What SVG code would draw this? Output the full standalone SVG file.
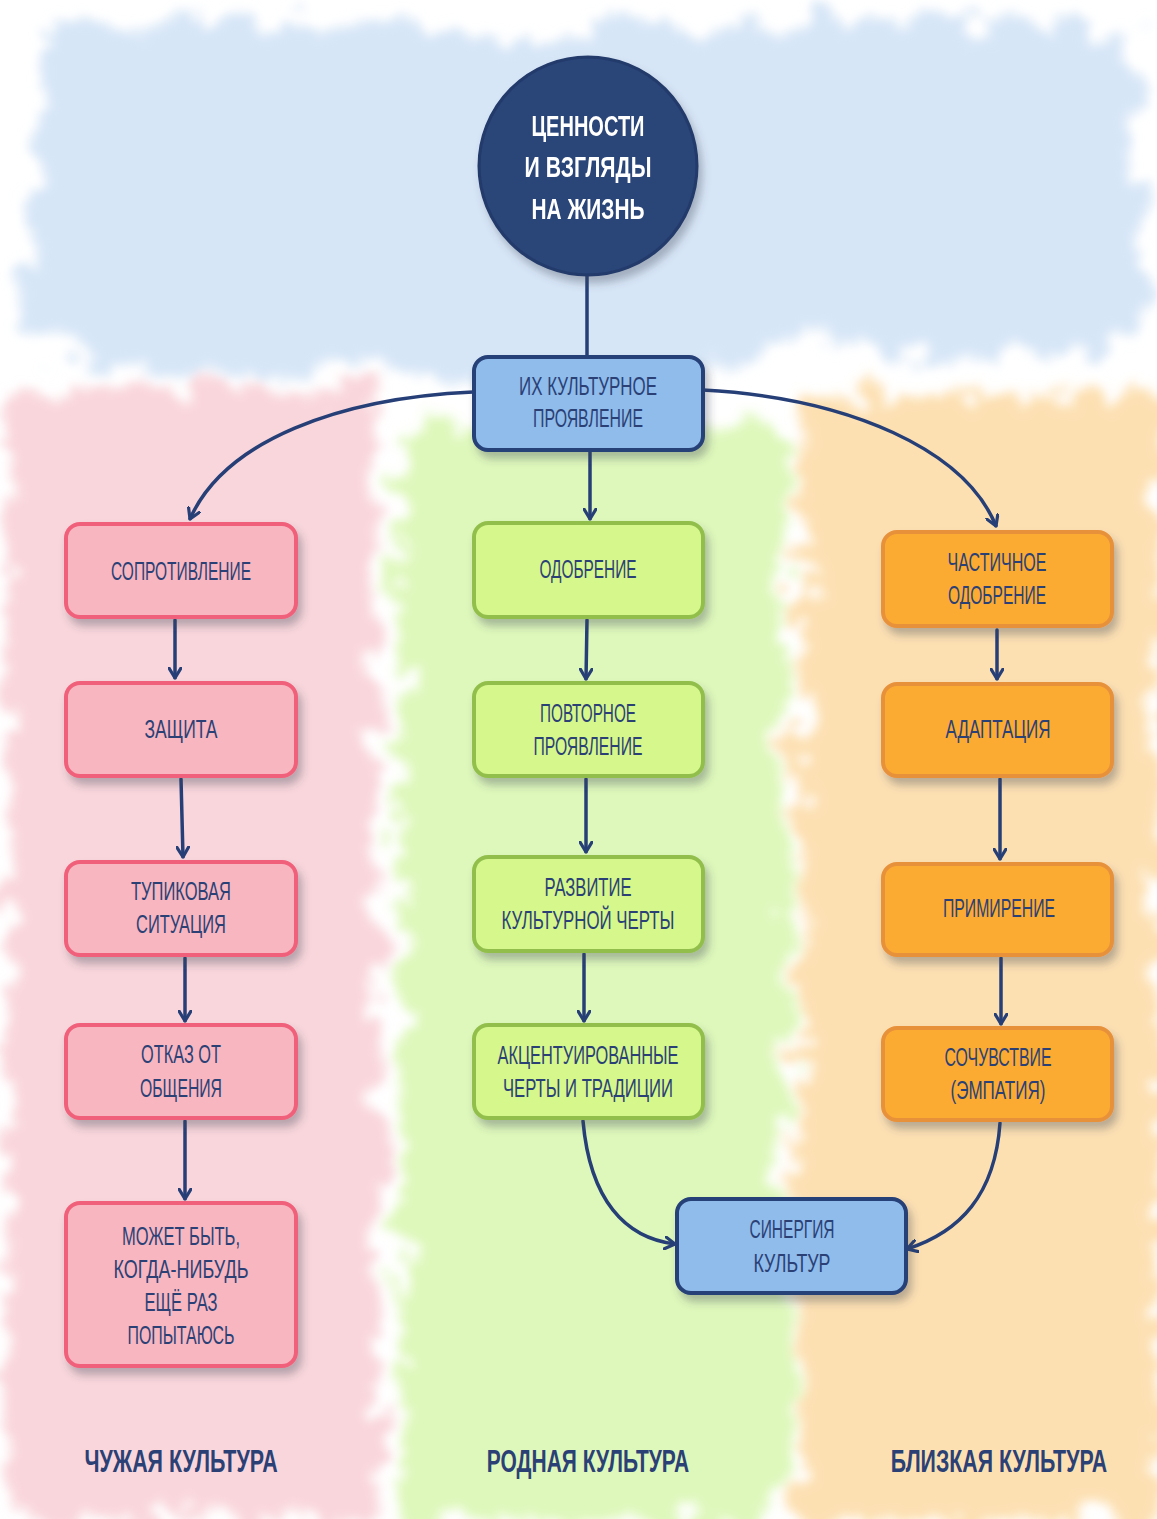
<svg xmlns="http://www.w3.org/2000/svg" width="1157" height="1519" viewBox="0 0 1157 1519">
<style>
.t{font-family:"Liberation Sans Narrow","Liberation Sans",Arial,sans-serif;font-size:25px;fill:#2b4176;text-anchor:middle}
.w{font-family:"Liberation Sans Narrow","Liberation Sans",Arial,sans-serif;font-size:29px;font-weight:bold;fill:#ffffff;text-anchor:middle}
.b{font-family:"Liberation Sans Narrow","Liberation Sans",Arial,sans-serif;font-size:31px;font-weight:bold;fill:#2b4176;text-anchor:middle}
.pink{fill:#f7b6c0;stroke:#f1607a;stroke-width:4}
.green{fill:#d5f78b;stroke:#92bf4c;stroke-width:4}
.orange{fill:#fcab31;stroke:#e8913b;stroke-width:4}
.blue{fill:#8fbceb;stroke:#253f78;stroke-width:4}
.c{fill:none;stroke:#263f77;stroke-width:3.5;stroke-linecap:round}
</style>
<defs>
<filter id="blur" x="-20%" y="-20%" width="140%" height="140%">
<feTurbulence type="fractalNoise" baseFrequency="0.025" numOctaves="3" seed="4" result="n"/>
<feDisplacementMap in="SourceGraphic" in2="n" scale="70" xChannelSelector="R" yChannelSelector="G" result="d"/>
<feTurbulence type="fractalNoise" baseFrequency="0.25" numOctaves="2" seed="9" result="n2"/>
<feDisplacementMap in="d" in2="n2" scale="26" xChannelSelector="R" yChannelSelector="G" result="d2"/>
<feGaussianBlur in="d2" stdDeviation="5"/>
</filter>
<filter id="sh" x="-10%" y="-10%" width="130%" height="140%">
<feDropShadow dx="4" dy="7" stdDeviation="4" flood-color="#3a3f55" flood-opacity="0.35"/>
</filter>
<marker id="ah" viewBox="0 0 12 14" refX="11" refY="7" markerWidth="12" markerHeight="14" markerUnits="userSpaceOnUse" orient="auto">
<path d="M1,1 L11,7 L1,13" fill="none" stroke="#263f77" stroke-width="3.2" stroke-linecap="round" stroke-linejoin="round"/>
</marker>
</defs>

<rect x="0" y="0" width="1157" height="1519" fill="#ffffff"/>
<g id="background" filter="url(#blur)">
<path d="M45,30 C200,15 400,25 560,40 C760,15 950,10 1130,35 L1150,340 C1000,375 900,355 780,340 C650,410 500,410 380,360 C250,390 120,380 20,340 Z" fill="#d7e6f7"/>
<rect x="8" y="390" width="370" height="1130" fill="#f9d6db"/>
<rect x="400" y="430" width="390" height="1090" fill="#def8bb"/>
<rect x="800" y="395" width="360" height="1125" fill="#fde0b2"/>
</g>

<g id="connectors">
<path class="c" d="M587,276 L587,356"/>
<path class="c" d="M473,392 C340,398 225,440 190,519" marker-end="url(#ah)"/>
<path class="c" d="M703,390 C850,398 965,450 996,526" marker-end="url(#ah)"/>
<path class="c" d="M590,451 L590,519" marker-end="url(#ah)"/>
<path class="c" d="M175,620 L175,678" marker-end="url(#ah)"/>
<path class="c" d="M181,779 L183,857" marker-end="url(#ah)"/>
<path class="c" d="M185,958 L185,1021" marker-end="url(#ah)"/>
<path class="c" d="M185,1121 L185,1199" marker-end="url(#ah)"/>
<path class="c" d="M587,620 L586,679" marker-end="url(#ah)"/>
<path class="c" d="M586,779 L586,852" marker-end="url(#ah)"/>
<path class="c" d="M584,954 L584,1021" marker-end="url(#ah)"/>
<path class="c" d="M997,630 L997,679" marker-end="url(#ah)"/>
<path class="c" d="M1000,779 L1000,859" marker-end="url(#ah)"/>
<path class="c" d="M1001,958 L1001,1024" marker-end="url(#ah)"/>
<path class="c" d="M583,1121 C590,1200 625,1238 675,1244" marker-end="url(#ah)"/>
<path class="c" d="M1000,1123 C995,1195 960,1232 907,1249" marker-end="url(#ah)"/>
</g>

<g id="n-values" filter="url(#sh)">
<circle cx="588" cy="166" r="109" fill="#2a4478" stroke="#223a6a" stroke-width="3"/>
<text class="w" x="588" y="136" textLength="113" lengthAdjust="spacingAndGlyphs">ЦЕННОСТИ</text>
<text class="w" x="588" y="177" textLength="127" lengthAdjust="spacingAndGlyphs">И ВЗГЛЯДЫ</text>
<text class="w" x="588" y="219" textLength="113" lengthAdjust="spacingAndGlyphs">НА ЖИЗНЬ</text>
</g>

<g id="n-manifest">
<rect class="blue" x="474" y="357" width="229" height="93" rx="14" filter="url(#sh)"/>
<text class="t" x="588" y="395" textLength="138" lengthAdjust="spacingAndGlyphs">ИХ КУЛЬТУРНОЕ</text>
<text class="t" x="588" y="427" textLength="110" lengthAdjust="spacingAndGlyphs">ПРОЯВЛЕНИЕ</text>
</g>

<g id="n-resist">
<rect class="pink" x="66" y="524" width="230" height="93" rx="14" filter="url(#sh)"/>
<text class="t" x="181" y="580" textLength="140" lengthAdjust="spacingAndGlyphs">СОПРОТИВЛЕНИЕ</text>
</g>
<g id="n-defense">
<rect class="pink" x="66" y="683" width="230" height="93" rx="14" filter="url(#sh)"/>
<text class="t" x="181" y="738" textLength="73" lengthAdjust="spacingAndGlyphs">ЗАЩИТА</text>
</g>
<g id="n-deadlock">
<rect class="pink" x="66" y="862" width="230" height="93" rx="14" filter="url(#sh)"/>
<text class="t" x="181" y="900" textLength="100" lengthAdjust="spacingAndGlyphs">ТУПИКОВАЯ</text>
<text class="t" x="181" y="933" textLength="90" lengthAdjust="spacingAndGlyphs">СИТУАЦИЯ</text>
</g>
<g id="n-refusal">
<rect class="pink" x="66" y="1025" width="230" height="93" rx="14" filter="url(#sh)"/>
<text class="t" x="181" y="1063" textLength="80" lengthAdjust="spacingAndGlyphs">ОТКАЗ ОТ</text>
<text class="t" x="181" y="1097" textLength="82" lengthAdjust="spacingAndGlyphs">ОБЩЕНИЯ</text>
</g>
<g id="n-maybe">
<rect class="pink" x="66" y="1203" width="230" height="163" rx="14" filter="url(#sh)"/>
<text class="t" x="181" y="1245" textLength="118" lengthAdjust="spacingAndGlyphs">МОЖЕТ БЫТЬ,</text>
<text class="t" x="181" y="1278" textLength="135" lengthAdjust="spacingAndGlyphs">КОГДА-НИБУДЬ</text>
<text class="t" x="181" y="1311" textLength="73" lengthAdjust="spacingAndGlyphs">ЕЩЁ РАЗ</text>
<text class="t" x="181" y="1344" textLength="107" lengthAdjust="spacingAndGlyphs">ПОПЫТАЮСЬ</text>
</g>

<g id="n-approval">
<rect class="green" x="474" y="523" width="229" height="94" rx="14" filter="url(#sh)"/>
<text class="t" x="588" y="578" textLength="97" lengthAdjust="spacingAndGlyphs">ОДОБРЕНИЕ</text>
</g>
<g id="n-repeat">
<rect class="green" x="474" y="683" width="229" height="93" rx="14" filter="url(#sh)"/>
<text class="t" x="588" y="722" textLength="96" lengthAdjust="spacingAndGlyphs">ПОВТОРНОЕ</text>
<text class="t" x="588" y="755" textLength="109" lengthAdjust="spacingAndGlyphs">ПРОЯВЛЕНИЕ</text>
</g>
<g id="n-develop">
<rect class="green" x="474" y="857" width="229" height="94" rx="14" filter="url(#sh)"/>
<text class="t" x="588" y="896" textLength="87" lengthAdjust="spacingAndGlyphs">РАЗВИТИЕ</text>
<text class="t" x="588" y="929" textLength="173" lengthAdjust="spacingAndGlyphs">КУЛЬТУРНОЙ ЧЕРТЫ</text>
</g>
<g id="n-accent">
<rect class="green" x="474" y="1025" width="229" height="93" rx="14" filter="url(#sh)"/>
<text class="t" x="588" y="1064" textLength="181" lengthAdjust="spacingAndGlyphs">АКЦЕНТУИРОВАННЫЕ</text>
<text class="t" x="588" y="1097" textLength="170" lengthAdjust="spacingAndGlyphs">ЧЕРТЫ И ТРАДИЦИИ</text>
</g>

<g id="n-partial">
<rect class="orange" x="883" y="532" width="229" height="94" rx="14" filter="url(#sh)"/>
<text class="t" x="997" y="571" textLength="99" lengthAdjust="spacingAndGlyphs">ЧАСТИЧНОЕ</text>
<text class="t" x="997" y="604" textLength="98" lengthAdjust="spacingAndGlyphs">ОДОБРЕНИЕ</text>
</g>
<g id="n-adapt">
<rect class="orange" x="883" y="684" width="229" height="92" rx="14" filter="url(#sh)"/>
<text class="t" x="998" y="738" textLength="105" lengthAdjust="spacingAndGlyphs">АДАПТАЦИЯ</text>
</g>
<g id="n-reconcile">
<rect class="orange" x="883" y="864" width="229" height="91" rx="14" filter="url(#sh)"/>
<text class="t" x="999" y="917" textLength="112" lengthAdjust="spacingAndGlyphs">ПРИМИРЕНИЕ</text>
</g>
<g id="n-empathy">
<rect class="orange" x="883" y="1028" width="229" height="92" rx="14" filter="url(#sh)"/>
<text class="t" x="998" y="1066" textLength="107" lengthAdjust="spacingAndGlyphs">СОЧУВСТВИЕ</text>
<text class="t" x="998" y="1099" textLength="95" lengthAdjust="spacingAndGlyphs">(ЭМПАТИЯ)</text>
</g>

<g id="n-synergy">
<rect class="blue" x="677" y="1199" width="229" height="94" rx="14" filter="url(#sh)"/>
<text class="t" x="792" y="1238" textLength="85" lengthAdjust="spacingAndGlyphs">СИНЕРГИЯ</text>
<text class="t" x="792" y="1272" textLength="77" lengthAdjust="spacingAndGlyphs">КУЛЬТУР</text>
</g>

<g id="labels">
<text class="b" transform="translate(181,1472) scale(0.7,1)" x="0" y="0" textLength="276" lengthAdjust="spacingAndGlyphs">ЧУЖАЯ КУЛЬТУРА</text>
<text class="b" transform="translate(588,1472) scale(0.7,1)" x="0" y="0" textLength="289" lengthAdjust="spacingAndGlyphs">РОДНАЯ КУЛЬТУРА</text>
<text class="b" transform="translate(999,1472) scale(0.7,1)" x="0" y="0" textLength="309" lengthAdjust="spacingAndGlyphs">БЛИЗКАЯ КУЛЬТУРА</text>
</g>
</svg>
